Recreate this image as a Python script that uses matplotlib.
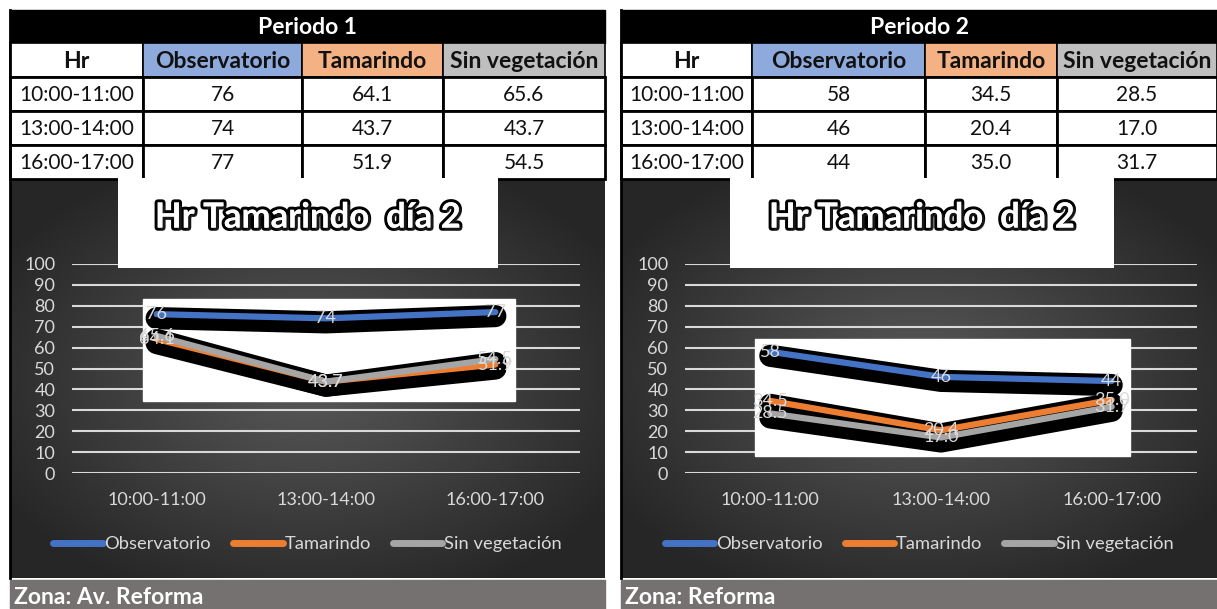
import numpy as np
import matplotlib
matplotlib.use("Agg")
import matplotlib.pyplot as plt
import matplotlib.patheffects as pe
from matplotlib.patches import Rectangle
from matplotlib.lines import Line2D
from matplotlib.transforms import offset_copy

plt.rcParams["font.family"] = ["Lato", "DejaVu Sans"]

W, H = 1217, 609

# data
hours = ["10:00-11:00", "13:00-14:00", "16:00-17:00"]
series_names = ["Observatorio", "Tamarindo", "Sin vegetación"]
p1_obs = [76, 74, 77]
p1_tam = [64.1, 43.7, 51.9]
p1_sin = [65.6, 43.7, 54.5]
p2_obs = [58, 46, 44]
p2_tam = [34.5, 20.4, 35.0]
p2_sin = [28.5, 17.0, 31.7]
p1_fmt = ["{:.0f}", "{:.1f}", "{:.1f}"]
p2_fmt = ["{:.0f}", "{:.1f}", "{:.1f}"]
yticks = list(range(0, 101, 10))

LINE_COLORS = ["#4472C4", "#ED7D31", "#A5A5A5"]
HEAD_COLORS = ["#8EA9DB", "#F4B183", "#BFBFBF"]
LABEL_C = "#D9D9D9"


def frac(x, y, w, h):
    return [x / W, 1 - (y + h) / H, w / W, h / H]


fig = plt.figure(figsize=(W / 100, H / 100), dpi=100)
fig.patch.set_facecolor("white")
ax0 = fig.add_axes([0, 0, 1, 1])
ax0.set_xlim(0, W)
ax0.set_ylim(H, 0)
ax0.axis("off")


def draw_panel(x0, cols, title, zone, values, fmts, grid_x, title_box, white_box):
    x1 = cols[-1]
    # table
    rows = [10, 43, 77, 111, 145, 179]
    ax0.add_patch(Rectangle((x0, rows[0]), x1 - x0, rows[1] - rows[0], color="black"))
    ax0.text((x0 + x1) / 2, (rows[0] + rows[1]) / 2 + 1, title, color="white",
             fontsize=16.5, fontweight="bold", ha="center", va="center")
    heads = ["Hr"] + series_names
    hcols = ["white"] + HEAD_COLORS
    for j in range(4):
        ax0.add_patch(Rectangle((cols[j], rows[1]), cols[j + 1] - cols[j], rows[2] - rows[1],
                                facecolor=hcols[j], edgecolor="black", lw=1.2))
        ax0.text((cols[j] + cols[j + 1]) / 2, (rows[1] + rows[2]) / 2 + 1, heads[j],
                 fontsize=16.5, fontweight="bold", ha="center", va="center", color="#111111")
    for i in range(3):
        cells = [hours[i]] + [fmts[k].format(values[k][i]) for k in range(3)]
        for j in range(4):
            ax0.add_patch(Rectangle((cols[j], rows[i + 2]), cols[j + 1] - cols[j],
                                    rows[i + 3] - rows[i + 2], facecolor="white",
                                    edgecolor="black", lw=2))
            ax0.text((cols[j] + cols[j + 1]) / 2, (rows[i + 2] + rows[i + 3]) / 2 + 1, cells[j],
                     fontsize=15, ha="center", va="center", color="#111111")

    # dark background with radial gradient
    cy0, cy1 = 179, 578
    nx, ny = 200, 140
    gx, gy = np.meshgrid(np.linspace(-1, 1, nx), np.linspace(-1, 1, ny))
    r = np.clip(np.sqrt(gx ** 2 + gy ** 2) / 1.2, 0, 1)
    c0, c1 = np.array([0.35, 0.35, 0.35]), np.array([0.15, 0.15, 0.15])
    img = c0[None, None, :] * (1 - r[..., None]) + c1[None, None, :] * r[..., None]
    ax0.imshow(img, extent=(x0, x1, cy1, cy0), aspect="auto", zorder=0)
    ax0.plot([x0, x0], [rows[0], cy1], color="black", lw=2)

    # footer
    ax0.add_patch(Rectangle((x0, 580), x1 - x0, 35, color="#767171"))
    ax0.text(x0 + 4, 598, zone, color="white", fontsize=16.5, fontweight="bold",
             ha="left", va="center")

    # chart axes
    gl, gr = grid_x
    ax = fig.add_axes(frac(gl, 264, gr - gl, 473 - 264))
    ax.set_facecolor("none")
    ax.set_xlim(-0.5, 2.5)
    ax.set_ylim(0, 100)
    for s in ax.spines.values():
        s.set_visible(False)
    ax.set_yticks(yticks)
    ax.set_xticks(range(3))
    ax.set_xticklabels(hours)
    ax.tick_params(length=0, colors=LABEL_C, labelsize=13)
    ax.tick_params(axis="x", pad=14)
    ax.tick_params(axis="y", pad=12)
    ax.grid(axis="y", color=LABEL_C, lw=1.5, zorder=1)
    ax.set_axisbelow(True)

    bx, by, bw, bh = white_box
    ax.add_patch(Rectangle((bx / W, 1 - (by + bh) / H), bw / W, bh / H, transform=fig.transFigure,
                           color="white", zorder=2, clip_on=False))
    shadow = offset_copy(ax.transData, fig=fig, x=0, y=-4, units="dots")
    xs = np.arange(3)
    for k in range(3):
        ax.plot(xs, values[k], color="black", lw=16, transform=shadow, zorder=3,
                solid_capstyle="round", solid_joinstyle="round", clip_on=False)
    for k in range(3):
        ax.plot(xs, values[k], color=LINE_COLORS[k], lw=4.5, zorder=4,
                solid_capstyle="round", clip_on=False)
    for k in range(3):
        for i in range(3):
            ax.text(xs[i], values[k][i], fmts[k].format(values[k][i]), color=LABEL_C,
                    fontsize=13, ha="center", va="center", zorder=5)

    # title box
    tx, ty, tw, th = title_box
    tax = fig.add_axes(frac(tx, ty, tw, th))
    tax.set_facecolor("white")
    tax.set_xticks([])
    tax.set_yticks([])
    for s in tax.spines.values():
        s.set_visible(False)
    tax.text(0.5, 0.56, "Hr Tamarindo  día 2", transform=tax.transAxes, ha="center",
             va="center", fontsize=25, fontweight="bold", color="white",
             path_effects=[pe.withStroke(linewidth=4.5, foreground="black"),
                           pe.SimplePatchShadow(offset=(2, -2)), pe.Normal()])

    handles = [Line2D([], [], color=c, lw=5, solid_capstyle="round") for c in LINE_COLORS]
    leg = ax.legend(handles, series_names, loc="center", ncol=3, frameon=False,
                    bbox_to_anchor=((x0 + x1) / 2 / W, 1 - 544 / H),
                    bbox_transform=fig.transFigure, fontsize=13.2, handlelength=2.7,
                    handletextpad=0.1, columnspacing=1.2)
    for t in leg.get_texts():
        t.set_color(LABEL_C)


draw_panel(10, [10, 143, 302, 443, 605], "Periodo 1", "Zona: Av. Reforma",
           [p1_obs, p1_tam, p1_sin], p1_fmt, (72, 580), (118, 178, 380, 90),
           (143, 299, 372, 102))
draw_panel(621, [621, 752, 925, 1057, 1217], "Periodo 2", "Zona: Reforma",
           [p2_obs, p2_tam, p2_sin], p2_fmt, (685, 1197), (730, 178, 384, 90),
           (755, 339, 375, 117))

fig.savefig("out.png", dpi=100)
